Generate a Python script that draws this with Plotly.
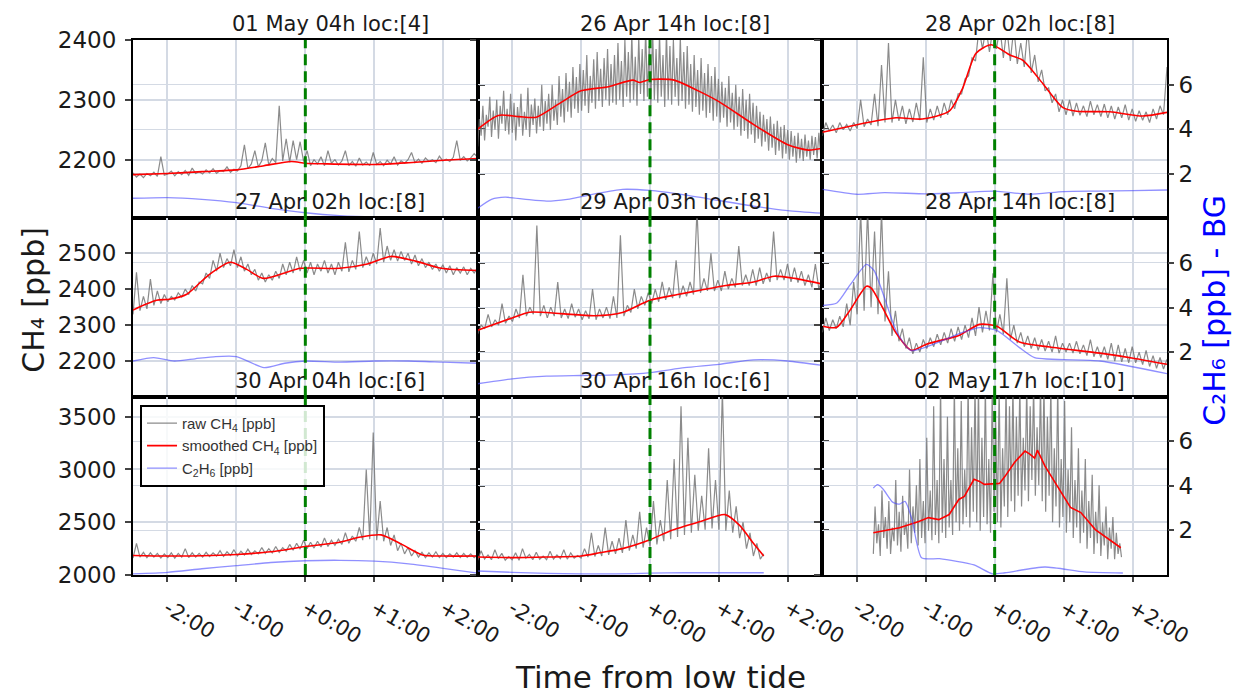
import numpy as np
import plotly.graph_objects as go

# ---------------------------------------------------------------- data
titles = ["01 May 04h loc:[4]", "26 Apr 14h loc:[8]", "28 Apr 02h loc:[8]",
          "27 Apr 02h loc:[8]", "29 Apr 03h loc:[8]", "28 Apr 14h loc:[8]",
          "30 Apr 04h loc:[6]", "30 Apr 16h loc:[6]", "02 May 17h loc:[10]"]

tick_hours = [-2, -1, 0, 1, 2]
tick_text = ["-2:00", "-1:00", "+0:00", "+1:00", "+2:00"]

ch4_ranges = [(2102, 2400), (2101, 2597), (2000, 3690)]
ch4_ticks = [[2200, 2300, 2400], [2200, 2300, 2400, 2500], [2000, 2500, 3000, 3500]]
c2h6_range = (0, 8)
c2h6_ticks = [2, 4, 6]

# raw CH4 records: (start hour, end hour) and regularly sampled values
raw_span_a = (-2.5, 2.5)
raw_a = [2178, 2171, 2176, 2170, 2177, 2173, 2179, 2172, 2205, 2174,
         2176, 2181, 2173, 2180, 2175, 2182, 2174, 2186, 2177, 2180,
         2176, 2183, 2178, 2185, 2177, 2182, 2180, 2188, 2179, 2184,
         2181, 2190, 2225, 2185, 2193, 2215, 2188, 2198, 2228, 2191,
         2202, 2195, 2290, 2198, 2235, 2196, 2232, 2200, 2230, 2197,
         2215, 2190, 2200, 2193, 2205, 2190, 2215, 2194, 2200, 2191,
         2198, 2215, 2190, 2197, 2189, 2203, 2191, 2196, 2190, 2212,
         2192, 2197, 2190, 2199, 2193, 2205, 2191, 2198, 2194, 2200,
         2212, 2195, 2201, 2194, 2203, 2197, 2200, 2195, 2206, 2198,
         2201, 2197, 2204, 2232, 2199, 2205, 2198, 2203, 2210, 2204]

raw_span_b = (-2.5, 2.5)
raw_b = [2222, 2268, 2240, 2290, 2232, 2275, 2255, 2305, 2238, 2282, 2250, 2300, 2235, 2290, 2260, 2315, 2248, 2285, 2242, 2310,
         2245, 2295, 2232, 2288, 2255, 2310, 2240, 2280, 2250, 2320, 2238, 2292, 2258, 2302, 2244, 2290, 2255, 2325, 2248, 2298,
         2260, 2310, 2250, 2325, 2265, 2300, 2258, 2340, 2272, 2318, 2262, 2345, 2280, 2330, 2270, 2355, 2285, 2338, 2278, 2360,
         2282, 2350, 2290, 2375, 2278, 2340, 2295, 2368, 2285, 2380, 2298, 2352, 2288, 2370, 2300, 2385, 2290, 2360, 2295, 2375,
         2292, 2395, 2300, 2365, 2288, 2400, 2305, 2380, 2295, 2410, 2300, 2372, 2290, 2405, 2310, 2385, 2298, 2420, 2305, 2390,
         2290, 2420, 2300, 2385, 2295, 2410, 2305, 2375, 2288, 2415, 2300, 2390, 2292, 2400, 2305, 2370, 2290, 2405, 2298, 2380,
         2285, 2390, 2292, 2360, 2280, 2375, 2288, 2350, 2275, 2370, 2282, 2345, 2270, 2360, 2278, 2340, 2265, 2355, 2272, 2335,
         2262, 2330, 2270, 2320, 2255, 2340, 2262, 2312, 2250, 2325, 2255, 2305, 2240, 2318, 2248, 2300, 2235, 2310, 2242, 2295,
         2228, 2290, 2235, 2280, 2222, 2275, 2230, 2268, 2215, 2272, 2220, 2260, 2208, 2265, 2215, 2255, 2202, 2258, 2210, 2250,
         2200, 2248, 2205, 2240, 2195, 2245, 2202, 2235, 2198, 2242, 2205, 2232, 2200, 2240, 2208, 2238, 2202, 2245, 2210, 2248]

raw_span_c = (-2.5, 2.5)
raw_c = [2240, 2262, 2248, 2258, 2245, 2262, 2250, 2259, 2248, 2262,
         2252, 2300, 2255, 2268, 2258, 2310, 2256, 2358, 2262, 2395,
         2262, 2300, 2265, 2290, 2260, 2285, 2263, 2295, 2266, 2371,
         2262, 2285, 2266, 2290, 2270, 2295, 2275, 2300, 2285, 2310,
         2310, 2335, 2340, 2370, 2365, 2420, 2385, 2420, 2380, 2420,
         2385, 2420, 2370, 2420, 2365, 2420, 2360, 2395, 2355, 2420,
         2345, 2375, 2330, 2350, 2315, 2320, 2295, 2310, 2280, 2300,
         2275, 2300, 2273, 2295, 2274, 2290, 2272, 2298, 2275, 2292,
         2272, 2293, 2270, 2290, 2268, 2288, 2270, 2292, 2266, 2285,
         2264, 2282, 2266, 2280, 2262, 2285, 2268, 2290, 2275, 2355]

raw_span_d = (-2.5, 2.5)
raw_d = [2330, 2447, 2340, 2380, 2345, 2428, 2355, 2395, 2360, 2385,
         2365, 2380, 2370, 2390, 2378, 2400, 2385, 2410, 2395, 2420,
         2415, 2445, 2430, 2480, 2450, 2500, 2460, 2485, 2465, 2510,
         2460, 2490, 2450, 2470, 2440, 2455, 2425, 2445, 2420, 2440,
         2425, 2450, 2430, 2470, 2440, 2475, 2445, 2490, 2450, 2480,
         2445, 2475, 2440, 2470, 2450, 2480, 2445, 2470, 2440, 2475,
         2450, 2530, 2448, 2480, 2455, 2560, 2460, 2490, 2465, 2500,
         2470, 2570, 2475, 2520, 2480, 2510, 2478, 2505, 2480, 2500,
         2470, 2495, 2465, 2485, 2460, 2475, 2455, 2470, 2450, 2468,
         2445, 2465, 2440, 2460, 2445, 2462, 2440, 2458, 2445, 2460]

raw_span_e = (-2.5, 2.5)
raw_e = [2275, 2300, 2290, 2330, 2295, 2315, 2300, 2360, 2305, 2325,
         2310, 2345, 2320, 2440, 2325, 2350, 2330, 2577, 2325, 2355,
         2320, 2350, 2325, 2420, 2320, 2345, 2318, 2360, 2322, 2345,
         2315, 2340, 2318, 2400, 2315, 2345, 2320, 2350, 2318, 2380,
         2320, 2550, 2325, 2355, 2335, 2400, 2345, 2380, 2355, 2390,
         2360, 2400, 2365, 2420, 2370, 2405, 2375, 2480, 2375, 2410,
         2380, 2420, 2385, 2620, 2390, 2430, 2395, 2500, 2395, 2425,
         2395, 2450, 2400, 2430, 2405, 2520, 2410, 2440, 2410, 2455,
         2410, 2460, 2415, 2445, 2420, 2560, 2425, 2455, 2425, 2470,
         2420, 2460, 2418, 2450, 2410, 2440, 2405, 2470, 2400, 2430]

raw_span_f = (-2.5, 2.5)
raw_f = [2280, 2320, 2285, 2315, 2290, 2325, 2295, 2360, 2300, 2420,
         2330, 2620, 2340, 2620, 2350, 2560, 2330, 2620, 2310, 2450,
         2270, 2340, 2255, 2290, 2235, 2265, 2220, 2250, 2225, 2260,
         2235, 2265, 2240, 2275, 2245, 2280, 2250, 2290, 2255, 2295,
         2260, 2300, 2265, 2320, 2270, 2350, 2280, 2340, 2285, 2444,
         2280, 2330, 2275, 2430, 2260, 2300, 2250, 2280, 2240, 2270,
         2235, 2265, 2230, 2260, 2228, 2255, 2225, 2270, 2222, 2250,
         2225, 2250, 2222, 2255, 2220, 2245, 2215, 2260, 2212, 2240,
         2210, 2240, 2205, 2250, 2200, 2245, 2198, 2235, 2195, 2240,
         2195, 2225, 2190, 2230, 2185, 2215, 2180, 2210, 2178, 2205]

raw_span_g = (-2.5, 2.5)
raw_g = [2160, 2300, 2170, 2215, 2165, 2210, 2170, 2205, 2160, 2200,
         2165, 2210, 2160, 2205, 2170, 2250, 2165, 2210, 2170, 2205,
         2170, 2215, 2175, 2210, 2180, 2230, 2175, 2220, 2185, 2240,
         2180, 2225, 2190, 2245, 2195, 2230, 2200, 2260, 2205, 2250,
         2210, 2270, 2215, 2260, 2225, 2290, 2235, 2300, 2245, 2330,
         2250, 2310, 2255, 2320, 2265, 2350, 2270, 2330, 2280, 2340,
         2290, 2400, 2300, 2370, 2320, 2450, 2330, 3000, 2340, 3350,
         2330, 2700, 2320, 2450, 2280, 2380, 2230, 2300, 2200, 2260,
         2180, 2230, 2170, 2215, 2165, 2210, 2170, 2220, 2165, 2205,
         2165, 2200, 2170, 2210, 2165, 2205, 2168, 2200, 2165, 2198]

raw_span_h = (-2.5, 1.65)
raw_h = [2140, 2230, 2150, 2190, 2145, 2240, 2155, 2205, 2140, 2175,
         2145, 2210, 2140, 2250, 2160, 2195, 2145, 2215, 2150, 2180,
         2145, 2225, 2150, 2190, 2155, 2240, 2150, 2210, 2160, 2185,
         2160, 2250, 2170, 2400, 2175, 2280, 2180, 2450, 2190, 2320,
         2200, 2350, 2210, 2520, 2230, 2380, 2250, 2600, 2260, 2450,
         2270, 2700, 2290, 2520, 2320, 2900, 2340, 3100, 2360, 3600,
         2380, 3300, 2400, 2950, 2420, 2750, 2430, 3200, 2440, 2900,
         2430, 3750, 2420, 2800, 2400, 2650, 2350, 2500, 2250, 2400,
         2180, 2300, 2150, 2200]

raw_span_i = (-1.76, 1.84)
raw_i = [2200, 2650, 2300, 2480, 2180, 2800, 2350, 2550, 2250, 2700, 2200, 2450, 2320, 2900, 2280, 2600, 2220, 2750, 2380, 2500,
         2250, 3000, 2300, 2650, 2400, 2850, 2280, 3100, 2350, 2700, 2300, 3300, 2420, 2800, 2330, 3600, 2380, 2900, 2300, 3800,
         2400, 3100, 2350, 3500, 2450, 2900, 2380, 3800, 2500, 3200, 2420, 3650, 2480, 3000, 2550, 3800, 2450, 3400, 2600, 3800,
         2500, 3800, 2420, 3300, 2550, 3800, 2480, 3100, 2400, 3800, 2600, 3450, 2500, 3800, 2450, 3200, 2650, 3800, 2550, 3600,
         2700, 3800, 2600, 3500, 2750, 3800, 2650, 3300, 2800, 3800, 2700, 3600, 2900, 3800, 2750, 3400, 2850, 3800, 2700, 3800,
         2600, 3500, 2750, 3800, 2500, 3200, 2650, 3800, 2450, 3100, 2550, 3650, 2400, 3000, 2500, 3400, 2350, 2900, 2450, 3200,
         2300, 2800, 2400, 3100, 2250, 2700, 2350, 2950, 2200, 2600, 2300, 2850, 2180, 2500, 2280, 2650, 2150, 2450, 2250, 2550,
         2150, 2400, 2200, 2300, 2170]

# smoothed CH4 (hour, ppb)
smooth_t_a = [-2.5, -2.0, -1.5, -1.0, -0.6, -0.2, 0.0, 0.3, 1.0, 1.5, 2.0, 2.5]
smooth_a = [2175, 2177, 2180, 2183, 2190, 2197, 2194, 2193, 2192, 2195, 2199, 2202]
smooth_t_b = [-2.5, -2.2, -1.9, -1.65, -1.3, -1.0, -0.6, -0.25, -0.15, 0.0, 0.35, 0.7, 1.0, 1.5, 2.0, 2.3, 2.5]
smooth_b = [2251, 2274, 2272, 2271, 2295, 2315, 2322, 2333, 2329, 2334, 2333, 2315, 2297, 2259, 2225, 2216, 2219]
smooth_t_c = [-2.5, -2.1, -1.43, -1.05, -0.66, -0.47, -0.27, -0.05, 0.22, 0.41, 0.7, 0.99, 1.19, 1.67, 2.15, 2.5]
smooth_c = [2246, 2256, 2270, 2268, 2281, 2318, 2378, 2392, 2375, 2366, 2327, 2287, 2281, 2280, 2273, 2279]
smooth_t_d = [-2.5, -2.16, -1.97, -1.72, -1.4, -1.09, -0.85, -0.61, -0.3, -0.07, 0.5, 0.9, 1.24, 1.6, 1.97, 2.5]
smooth_d = [2342, 2369, 2372, 2386, 2440, 2475, 2455, 2430, 2445, 2458, 2458, 2470, 2491, 2478, 2458, 2452]
smooth_t_e = [-2.5, -2.0, -1.75, -1.3, -0.8, -0.4, 0.0, 0.4, 0.73, 1.1, 1.5, 1.8, 2.1, 2.5]
smooth_e = [2286, 2320, 2336, 2332, 2326, 2335, 2369, 2385, 2397, 2410, 2420, 2436, 2430, 2414]
smooth_t_f = [-2.49, -2.29, -2.1, -1.86, -1.79, -1.63, -1.43, -1.21, -0.99, -0.51, -0.22, 0.03, 0.36, 0.8, 1.53, 2.01, 2.5]
smooth_f = [2297, 2294, 2341, 2408, 2403, 2350, 2278, 2230, 2247, 2272, 2302, 2297, 2253, 2239, 2222, 2208, 2191]
smooth_t_g = [-2.5, -2.0, -1.5, -1.0, -0.5, 0.0, 0.5, 0.8, 1.1, 1.4, 1.7, 2.0, 2.5]
smooth_g = [2185, 2180, 2182, 2195, 2220, 2270, 2310, 2360, 2380, 2290, 2190, 2180, 2180]
smooth_t_h = [-2.5, -2.0, -1.5, -1.0, -0.73, -0.4, 0.0, 0.3, 0.73, 1.09, 1.3, 1.5, 1.65]
smooth_h = [2170, 2165, 2170, 2180, 2210, 2250, 2334, 2420, 2506, 2572, 2470, 2300, 2180]
smooth_t_i = [-1.76, -1.38, -1.1, -0.96, -0.81, -0.66, -0.52, -0.44, -0.3, -0.22, -0.15, 0.07, 0.15,
              0.29, 0.44, 0.51, 0.58, 0.62, 0.73, 0.92, 1.1, 1.25, 1.46, 1.83]
smooth_i = [2401, 2448, 2506, 2544, 2525, 2573, 2716, 2745, 2907, 2887, 2859, 2868, 2935,
            3069, 3174, 3145, 3107, 3183, 3031, 2830, 2640, 2592, 2430, 2258]

# C2H6 above background (hour, ppb)
ethane_t_a = [-2.5, -2.0, -1.5, -1.0, -0.5, 0.0, 0.5, 1.0, 1.5, 2.0, 2.5]
ethane_a = [0.9, 0.93, 0.85, 0.7, 0.45, 0.25, 0.12, 0.06, 0.05, 0.05, 0.05]
ethane_t_b = [-2.5, -2.3, -2.1, -1.8, -1.5, -1.2, -0.8, -0.4, 0.0, 0.5, 1.0, 1.5, 2.0, 2.5]
ethane_b = [0.45, 0.85, 0.95, 0.85, 0.77, 0.85, 1.1, 1.3, 1.25, 1.05, 0.8, 0.55, 0.35, 0.23]
ethane_t_c = [-2.5, -2.0, -1.6, -1.0, -0.5, 0.0, 0.5, 1.0, 1.5, 2.0, 2.5]
ethane_c = [1.3, 1.08, 1.15, 1.1, 1.15, 1.22, 1.08, 1.2, 1.22, 1.24, 1.27]
ethane_t_d = [-2.5, -2.2, -1.9, -1.6, -1.3, -1.0, -0.6, -0.3, 0.0, 0.5, 1.0, 1.5, 2.0, 2.5]
ethane_d = [1.6, 1.75, 1.6, 1.7, 1.8, 1.8, 1.3, 1.5, 1.6, 1.55, 1.6, 1.6, 1.55, 1.5]
ethane_t_e = [-2.5, -2.0, -1.5, -1.0, -0.5, 0.0, 0.5, 1.0, 1.5, 2.0, 2.5]
ethane_e = [0.58, 0.8, 0.92, 0.95, 0.98, 1.08, 1.3, 1.45, 1.65, 1.6, 1.4]
ethane_t_f = [-2.49, -2.29, -2.1, -1.86, -1.75, -1.6, -1.43, -1.21, -0.51, -0.22, 0.03, 0.36, 0.58, 1.53, 2.5]
ethane_f = [4.09, 4.2, 5.0, 5.93, 5.66, 4.45, 2.97, 2.07, 2.83, 3.1, 2.97, 2.2, 1.75, 1.6, 1.03]
ethane_t_g = [-2.5, -2.0, -1.5, -1.0, -0.5, 0.0, 0.5, 1.0, 1.5, 2.0, 2.5]
ethane_g = [0.05, 0.12, 0.28, 0.42, 0.56, 0.64, 0.66, 0.62, 0.5, 0.3, 0.08]
ethane_t_h = [-2.5, -2.0, -1.5, -1.0, -0.5, 0.0, 0.5, 1.0, 1.65]
ethane_h = [0.18, 0.12, 0.07, 0.05, 0.05, 0.08, 0.1, 0.1, 0.1]
ethane_t_i = [-1.76, -1.7, -1.62, -1.48, -1.38, -1.3, -1.2, -1.06, -0.8, -0.3, -0.03, 0.15, 0.73, 1.3, 1.86]
ethane_i = [3.9, 4.05, 3.86, 3.27, 3.18, 3.3, 2.5, 0.77, 0.73, 0.45, 0.05, 0.1, 0.36, 0.14, 0.09]

raw_spans = [raw_span_a, raw_span_b, raw_span_c, raw_span_d, raw_span_e,
             raw_span_f, raw_span_g, raw_span_h, raw_span_i]
raw_series = [raw_a, raw_b, raw_c, raw_d, raw_e, raw_f, raw_g, raw_h, raw_i]
smooth_times = [smooth_t_a, smooth_t_b, smooth_t_c, smooth_t_d, smooth_t_e,
                smooth_t_f, smooth_t_g, smooth_t_h, smooth_t_i]
smooth_series = [smooth_a, smooth_b, smooth_c, smooth_d, smooth_e,
                 smooth_f, smooth_g, smooth_h, smooth_i]
ethane_times = [ethane_t_a, ethane_t_b, ethane_t_c, ethane_t_d, ethane_t_e,
                ethane_t_f, ethane_t_g, ethane_t_h, ethane_t_i]
ethane_series = [ethane_a, ethane_b, ethane_c, ethane_d, ethane_e,
                 ethane_f, ethane_g, ethane_h, ethane_i]

# ---------------------------------------------------------------- style
FONT = "DejaVu Sans"
TXT = "#1a1a1a"
GRID = "rgb(212,218,228)"
RAW_COL = "rgba(110,110,110,0.8)"
SMOOTH_COL = "#ff0000"
ETHANE_COL = "rgba(70,70,255,0.6)"


def ax_id(n):
    """Plotly axis suffix: '' for the first axis, the number otherwise."""
    return "" if n == 1 else str(n)


fig = go.Figure()
layout = dict(
    width=1241, height=694,
    margin=dict(l=133, r=74, t=40, b=119),
    paper_bgcolor="white", plot_bgcolor="white",
    font=dict(family=FONT, color=TXT),
    showlegend=True,
    legend=dict(x=0.0068, y=0.318, xanchor="left", yanchor="top",
                bgcolor="rgba(255,255,255,0.82)", bordercolor="black",
                borderwidth=2, font=dict(family="Liberation Sans", size=15, color="#333"),
                tracegroupgap=0),
)

shapes = []
annotations = []

for p in range(9):
    r, c = divmod(p, 3)
    xa = "x" + ax_id(p + 1)
    ya = "y" + ax_id(p + 1)
    ya2 = "y" + ax_id(p + 10)
    xdom = [c / 3, (c + 1) / 3]
    ydom = [1 - (r + 1) / 3, 1 - r / 3]

    layout["xaxis" + ax_id(p + 1)] = dict(
        domain=xdom, anchor=ya, range=[-2.5, 2.5],
        tickvals=tick_hours, ticktext=tick_text,
        showticklabels=(r == 2), tickangle=30, ticklabelstandoff=6,
        tickfont=dict(size=21, family=FONT, color=TXT),
        ticks="outside", ticklen=5, tickwidth=1.5, tickcolor="#444",
        showgrid=True, gridcolor=GRID, gridwidth=1.5, zeroline=False,
        showline=True, mirror=True, linecolor="black", linewidth=2,
    )
    lo, hi = ch4_ranges[r]
    layout["yaxis" + ax_id(p + 1)] = dict(
        domain=ydom, anchor=xa, range=[lo, hi], tickvals=ch4_ticks[r],
        showticklabels=(c == 0), tickfont=dict(size=23, family=FONT, color=TXT),
        ticklabelstandoff=4,
        ticks="outside", ticklen=6, tickwidth=1.5, tickcolor="#444",
        showgrid=True, gridcolor=GRID, gridwidth=1.5, zeroline=False,
        showline=True, mirror=True, linecolor="black", linewidth=2,
    )
    layout["yaxis" + ax_id(p + 10)] = dict(
        overlaying=ya, anchor=xa, side="right", range=list(c2h6_range),
        tickvals=c2h6_ticks, showticklabels=(c == 2),
        tickfont=dict(size=23, family=FONT, color=TXT),
        ticks="outside", ticklen=6, tickwidth=1.5, tickcolor="#444",
        showgrid=True, gridcolor=GRID, gridwidth=1.2, zeroline=False,
        showline=False,
    )

    t0, t1 = raw_spans[p]
    raw = raw_series[p]
    t_raw = np.linspace(t0, t1, len(raw))
    first = p == 6
    fig.add_trace(go.Scatter(
        x=t_raw, y=raw, xaxis=xa, yaxis=ya, mode="lines",
        line=dict(color=RAW_COL, width=1.2),
        name="raw CH<sub>4</sub> [ppb]", legendgroup="raw",
        showlegend=first, hoverinfo="skip"))
    fig.add_trace(go.Scatter(
        x=smooth_times[p], y=smooth_series[p], xaxis=xa, yaxis=ya, mode="lines",
        line=dict(color=SMOOTH_COL, width=1.6,
                  shape="spline" if p != 8 else "linear", smoothing=0.7),
        name="smoothed CH<sub>4</sub> [ppb]", legendgroup="smooth",
        showlegend=first, hoverinfo="skip"))
    fig.add_trace(go.Scatter(
        x=ethane_times[p], y=ethane_series[p], xaxis=xa, yaxis=ya2, mode="lines",
        line=dict(color=ETHANE_COL, width=1.3, shape="spline", smoothing=0.6),
        name="C<sub>2</sub>H<sub>6</sub> [ppb]", legendgroup="ethane",
        showlegend=first, hoverinfo="skip"))

    # low-tide marker
    shapes.append(dict(type="line", xref=xa, yref=ya + " domain",
                       x0=0, x1=0, y0=0, y1=1, layer="above",
                       line=dict(color="#008000", width=3, dash="11px,6px")))

    annotations.append(dict(
        text=titles[p], xref="paper", yref="paper",
        x=(c + 0.5) / 3, y=1 - r / 3, xshift=25, yshift=2,
        xanchor="center", yanchor="bottom", showarrow=False,
        font=dict(size=21, family=FONT, color=TXT)))

annotations += [
    dict(text="CH₄ [ppb]", xref="paper", yref="paper", x=-0.097, y=0.514,
         textangle=-90, showarrow=False, xanchor="center", yanchor="middle",
         font=dict(size=30, family=FONT, color=TXT)),
    dict(text="C₂H₆ [ppb] - BG", xref="paper", yref="paper", x=1.046, y=0.495,
         textangle=-90, showarrow=False, xanchor="center", yanchor="middle",
         font=dict(size=30, family=FONT, color="#0000ff")),
    dict(text="Time from low tide", xref="paper", yref="paper", x=0.5106, y=-0.1907,
         showarrow=False, xanchor="center", yanchor="middle",
         font=dict(size=31, family=FONT, color=TXT)),
]

layout["shapes"] = shapes
layout["annotations"] = annotations
fig.update_layout(**layout)

fig.write_html("out.html")
